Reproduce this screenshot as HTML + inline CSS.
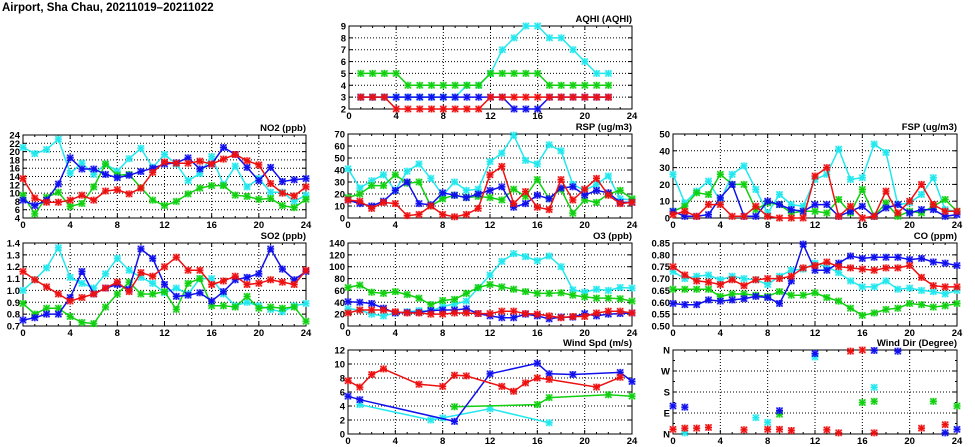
<!DOCTYPE html>
<html><head><meta charset="utf-8">
<style>
html,body{margin:0;padding:0;background:#fff;}
svg{display:block;font-family:"Liberation Sans",sans-serif;font-weight:bold;}
</style></head>
<body>
<svg id="chart" width="975" height="447" viewBox="0 0 975 447" xmlns="http://www.w3.org/2000/svg">
<text x="2" y="11" font-size="11.5">Airport, Sha Chau, 20211019–20211022</text>
</svg>
<script>
const hours = [0,1,2,3,4,5,6,7,8,9,10,11,12,13,14,15,16,17,18,19,20,21,22,23,24];
const N = null;
// AQHI
const aqhiCyan  = [N,3,3,3,3,3,3,3,3,3,4,4,5,7,8,9,9,8,8,7,6,5,5,N,N];
const aqhiGreen = [N,5,5,5,5,4,4,4,4,4,4,4,5,5,5,5,5,4,4,4,4,4,4,N,N];
const aqhiBlue  = [N,3,3,3,3,3,3,3,3,3,3,3,3,3,2,2,2,3,3,3,3,3,3,N,N];
const aqhiRed   = [N,3,3,3,2,2,2,2,2,2,2,2,3,3,3,3,3,3,3,3,3,3,3,N,N];
// NO2
const no2Cyan  = [21,19.5,20.5,23,14.8,17.2,14.5,17,15.3,18.3,20.8,16.2,19.3,17,13,14.7,18.8,12,16.5,11.5,13.5,10.2,10.2,8,9.5];
const no2Green = [9.5,5,9,10.2,6.8,7.5,11.5,17,14.3,14.5,11.3,8.3,7,8,9.8,11.2,11.8,11.8,9.5,9.2,8.5,8.7,7,6.5,8.5];
const no2Blue  = [8.3,7,8.3,12.2,18.5,15.8,15.8,14.5,13.7,14.3,15.2,16,17,17.3,18.5,15.8,17,21,19.3,16.2,13,16.2,12.8,13.2,13.5];
const no2Red   = [13.5,8.8,7.8,7.8,8.3,9.5,8.3,10.5,10.8,9.8,11.2,15,17.5,17.2,17.2,17.7,17,18.2,19.3,17.8,16.8,12.3,10,9.3,11.5];
// RSP
const rspCyan  = [41,25,31,36,23,39,45,33,19,30,23,24,47,54,69,48,45,61,56,28,23,28,35,16,15];
const rspGreen = [17,20,27,27,36,29,30,10,16,19,17,18,17,15,24,18,32,16,24,4,15,13,20,23,16];
const rspBlue  = [15,12,10,14,23,30,12,11,21,19,17,20,23,26,9,12,19,16,25,26,19,23,21,13,13];
const rspRed   = [15,14,8,13,12,2,3,10,3,1,3,8,36,43,12,22,9,7,32,15,24,33,19,12,13];
// FSP
const fspCyan  = [26,9,16,22,10,26,31,17,3,14,8,7,23,26,41,23,24,44,39,8,9,14,24,5,4];
const fspGreen = [4,7,15,14,26,20,20,5,9,8,3,4,4,3,11,3,17,1,9,1,4,3,7,11,4];
const fspBlue  = [4,1,1,2,12,20,1,1,10,8,5,4,8,8,1,4,7,1,6,8,3,5,5,1,2];
const fspRed   = [2,4,1,8,8,1,1,7,1,0,0,0,25,30,1,7,0,1,16,3,10,20,8,4,4];
// SO2
const so2Cyan  = [1.0,1.09,1.19,1.36,1.11,1.06,1.02,1.14,1.27,1.17,1.11,1.06,0.98,1.02,0.97,1.1,1.1,0.97,0.87,0.9,0.87,0.84,0.82,0.87,0.89];
const so2Green = [0.89,0.8,0.85,0.85,0.78,0.73,0.72,0.86,0.97,1.07,0.97,0.97,0.99,0.84,1.06,1.1,0.87,0.87,0.86,0.95,0.85,0.86,0.85,0.86,0.74];
const so2Blue  = [0.75,0.77,0.8,0.8,0.94,1.16,0.97,1.02,1.05,1.01,1.35,1.27,1.05,0.95,0.96,0.98,0.91,0.99,1.09,1.11,1.14,1.35,1.18,1.09,1.16];
const so2Red   = [1.16,1.09,1.03,0.97,0.91,0.94,0.97,1.02,1.07,0.99,1.15,1.12,1.2,1.28,1.17,1.17,1.05,1.08,1.12,1.05,1.06,1.09,1.07,1.05,1.17];
// O3
const o3Cyan  = [29,27,20,17,22,24,26,25,33,37,42,64,86,109,122,117,110,118,100,61,57,62,60,65,64];
const o3Green = [65,69,57,55,58,53,47,36,43,45,55,65,70,66,62,58,55,55,56,52,49,47,47,46,42];
const o3Blue  = [41,40,38,30,22,23,23,26,27,27,29,21,17,14,14,20,17,12,15,15,21,17,20,21,22];
const o3Red   = [22,27,27,27,24,22,22,20,20,22,22,21,21,25,25,21,20,17,14,16,16,22,25,25,22];
// CO
const coCyan  = [0.73,0.70,0.71,0.715,0.695,0.71,0.70,0.695,0.675,0.71,0.735,0.74,0.765,0.75,0.725,0.69,0.665,0.665,0.69,0.655,0.66,0.65,0.645,0.635,0.65];
const coGreen = [0.655,0.655,0.655,0.655,0.625,0.635,0.635,0.63,0.625,0.645,0.63,0.63,0.64,0.62,0.605,0.575,0.545,0.555,0.57,0.575,0.595,0.59,0.58,0.585,0.595];
const coBlue  = [0.595,0.59,0.59,0.61,0.605,0.61,0.615,0.625,0.62,0.595,0.69,0.845,0.735,0.735,0.765,0.795,0.785,0.79,0.79,0.79,0.78,0.785,0.77,0.765,0.755];
const coRed   = [0.75,0.715,0.69,0.685,0.675,0.695,0.67,0.695,0.70,0.70,0.71,0.745,0.755,0.77,0.75,0.745,0.74,0.735,0.745,0.745,0.755,0.705,0.67,0.665,0.665];
// Wind speed
const wsCyan  = [N,4.2,N,N,N,N,N,2,2.3,N,N,N,3.6,N,N,N,N,1.6,N,N,N,N,N,N,N];
const wsGreen = [N,N,N,N,N,N,N,N,N,3.9,N,N,N,N,N,N,4.2,5.2,N,N,N,N,5.6,N,5.4];
const wsBlue  = [5.4,4.9,N,N,N,N,N,N,N,1.8,N,N,8.6,N,N,N,10.1,8.6,N,8.5,N,N,N,8.8,7.5];
const wsRed   = [7.6,6.7,8.5,9.3,N,N,7.1,N,6.8,8.4,8.3,N,N,6.8,6.1,7.3,8,7.8,N,N,N,6.7,N,8.1,N];
// Wind direction (degrees)
const wdCyan  = [N,5,N,N,N,N,N,70,50,N,N,N,330,N,N,N,N,200,N,N,N,N,N,N,N];
const wdGreen = [N,N,N,N,N,N,N,N,N,85,N,N,N,N,N,N,135,140,N,N,N,N,140,N,120];
const wdBlue  = [120,115,N,N,N,N,N,N,N,100,N,N,345,N,N,N,N,358,N,355,N,N,N,5,20];
const wdRed   = [20,25,25,28,N,N,18,N,20,20,15,N,N,18,5,355,360,5,N,N,N,25,N,40,N];

const xTicks = [0,4,8,12,16,20,24];
const aqhiTicks=[2,3,4,5,6,7,8,9], no2Ticks=[4,6,8,10,12,14,16,18,20,22,24], rspTicks=[0,10,20,30,40,50,60,70];
const fspTicks=[0,10,20,30,40,50], so2Ticks=[0.7,0.8,0.9,1.0,1.1,1.2,1.3,1.4], o3Ticks=[0,20,40,60,80,100,120,140];
const coTicks=[0.50,0.55,0.60,0.65,0.70,0.75,0.80,0.85], wsTicks=[0,2,4,6,8,10,12], wdTicks=[0,90,180,270,360];
const wdLabels=['N','E','S','W','N'];

const COL = {cyan:'#22e8ee', green:'#10d010', blue:'#1010ee', red:'#ee1010'};
const panels = [
 {name:'aqhi',title:'AQHI (AQHI)',x0:349,x1:632,y0:26,y1:109,ymin:2,ymax:9,ticks:aqhiTicks,dec:0,s:[aqhiCyan,aqhiGreen,aqhiBlue,aqhiRed],lines:true},
 {name:'no2',title:'NO2 (ppb)',x0:23,x1:306,y0:135,y1:218,ymin:4,ymax:24,ticks:no2Ticks,dec:0,s:[no2Cyan,no2Green,no2Blue,no2Red],lines:true},
 {name:'rsp',title:'RSP (ug/m3)',x0:348,x1:632,y0:134,y1:218,ymin:0,ymax:70,ticks:rspTicks,dec:0,s:[rspCyan,rspGreen,rspBlue,rspRed],lines:true},
 {name:'fsp',title:'FSP (ug/m3)',x0:673,x1:957,y0:134,y1:218,ymin:0,ymax:50,ticks:fspTicks,dec:0,s:[fspCyan,fspGreen,fspBlue,fspRed],lines:true},
 {name:'so2',title:'SO2 (ppb)',x0:23,x1:306,y0:243,y1:326,ymin:0.7,ymax:1.4,ticks:so2Ticks,dec:1,s:[so2Cyan,so2Green,so2Blue,so2Red],lines:true},
 {name:'o3',title:'O3 (ppb)',x0:348,x1:632,y0:243,y1:326,ymin:0,ymax:140,ticks:o3Ticks,dec:0,s:[o3Cyan,o3Green,o3Blue,o3Red],lines:true},
 {name:'co',title:'CO (ppm)',x0:673,x1:957,y0:243,y1:326,ymin:0.5,ymax:0.85,ticks:coTicks,dec:2,s:[coCyan,coGreen,coBlue,coRed],lines:true},
 {name:'wind-speed',title:'Wind Spd (m/s)',x0:348,x1:632,y0:350,y1:434,ymin:0,ymax:12,ticks:wsTicks,dec:0,s:[wsCyan,wsGreen,wsBlue,wsRed],lines:true},
 {name:'wind-dir',title:'Wind Dir (Degree)',x0:673,x1:957,y0:350,y1:434,ymin:0,ymax:360,ticks:wdTicks,labels:wdLabels,dec:0,s:[wdCyan,wdGreen,wdBlue,wdRed],lines:false,minor:45},
];
const colorNames=['cyan','green','blue','red'];
const svg=document.getElementById('chart');
const NS='http://www.w3.org/2000/svg';
function mk(tag,attrs,parent){const e=document.createElementNS(NS,tag);for(const k in attrs)e.setAttribute(k,attrs[k]);parent.appendChild(e);return e;}

panels.forEach(p=>{
  const g=mk('g',{},svg);
  
  
  const xs=h=>p.x0+(h/24)*(p.x1-p.x0);
  const ys=v=>p.y1-(v-p.ymin)/(p.ymax-p.ymin)*(p.y1-p.y0);
  // grid
  xTicks.forEach(t=>{
    if(t>0&&t<24){const l=mk('line',{x1:xs(t),x2:xs(t),y1:p.y0,y2:p.y1,stroke:'#000','stroke-width':1,'stroke-dasharray':'1,2'},g);
      }
    mk('line',{x1:xs(t),x2:xs(t),y1:p.y1,y2:p.y1-4,stroke:'#000'},g);
    mk('line',{x1:xs(t),x2:xs(t),y1:p.y0,y2:p.y0+4,stroke:'#000'},g);
    const tx=mk('text',{x:xs(t),y:p.y1+10,'font-size':9.5,'text-anchor':'middle'},g);
    tx.textContent=t;
    
  });
  for(let h=1;h<24;h++){ if(h%4){mk('line',{x1:xs(h),x2:xs(h),y1:p.y1,y2:p.y1-2,stroke:'#000'},g);mk('line',{x1:xs(h),x2:xs(h),y1:p.y0,y2:p.y0+2,stroke:'#000'},g);} }
  p.ticks.forEach((t,i)=>{
    const y=ys(t);
    if(i>0&&i<p.ticks.length-1){const l=mk('line',{x1:p.x0,x2:p.x1,y1:y,y2:y,stroke:'#000','stroke-width':1,'stroke-dasharray':'1,2'},g);
      }
    mk('line',{x1:p.x0,x2:p.x0+4,y1:y,y2:y,stroke:'#000'},g);
    mk('line',{x1:p.x1,x2:p.x1-4,y1:y,y2:y,stroke:'#000'},g);
    const tx=mk('text',{x:p.x0-3,y:y+3.5,'font-size':9.5,'text-anchor':'end'},g);
    tx.textContent=p.labels?p.labels[i]:t.toFixed(p.dec);
    
  });
  if(p.minor){for(let v=p.minor;v<p.ymax;v+=90){mk('line',{x1:p.x0,x2:p.x0+2,y1:ys(v),y2:ys(v),stroke:'#000'},g);mk('line',{x1:p.x1,x2:p.x1-2,y1:ys(v),y2:ys(v),stroke:'#000'},g);}}
  const fr=mk('rect',{x:p.x0,y:p.y0,width:p.x1-p.x0,height:p.y1-p.y0,fill:'none',stroke:'#000','stroke-width':1},g);
  
  const tt=mk('text',{x:p.x1,y:p.y0-4,'font-size':9.5,'text-anchor':'end'},g);
  tt.textContent=p.title;
  
  // series
  p.s.forEach((arr,si)=>{
    const c=COL[colorNames[si]];
    const sg=mk('g',{},g);
    
    
    const pts=[];
    arr.forEach((v,i)=>{if(v!==null)pts.push([xs(hours[i]),ys(v)]);});
    if(p.lines&&pts.length>1){
      const pl=mk('polyline',{points:pts.map(q=>q[0].toFixed(1)+','+q[1].toFixed(1)).join(' '),fill:'none',stroke:c,'stroke-width':1.5},sg);
      
    }
    pts.forEach(q=>{
      const m=mk('g',{},sg);
      
      
      mk('rect',{x:q[0]-3.5,y:q[1]-3.5,width:7,height:7,fill:c,'fill-opacity':0.35},m);
      mk('path',{d:`M${q[0]-3},${q[1]-3}L${q[0]+3},${q[1]+3}M${q[0]-3},${q[1]+3}L${q[0]+3},${q[1]-3}M${q[0]-3.5},${q[1]}L${q[0]+3.5},${q[1]}M${q[0]},${q[1]-3.5}L${q[0]},${q[1]+3.5}`,stroke:c,'stroke-width':1.3},m);
    });
  });
});
</script>
</body></html>
